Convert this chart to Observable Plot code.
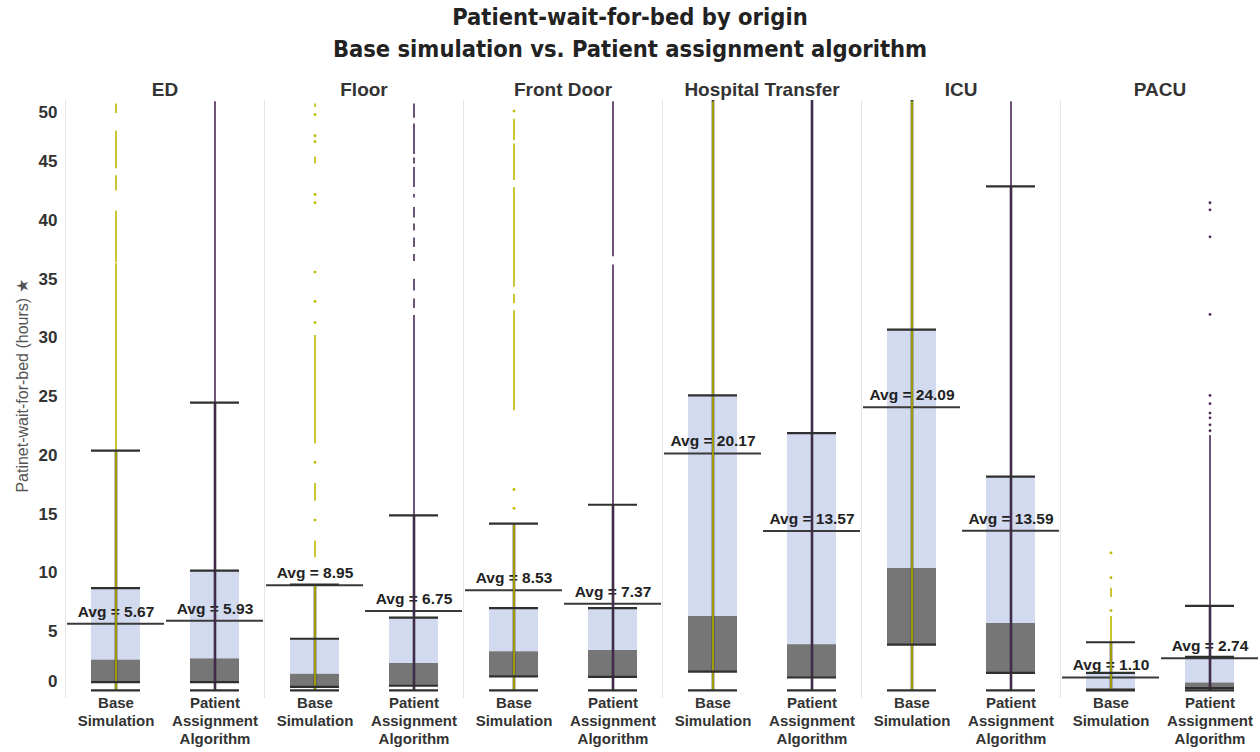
<!DOCTYPE html>
<html>
<head>
<meta charset="utf-8">
<script src="https://cdn.jsdelivr.net/npm/d3@7"></script>
<script src="https://cdn.jsdelivr.net/npm/@observablehq/plot@0.6"></script>
<style>
  body { margin: 0; background: #fff; }
  #title {
    height: 68px; box-sizing: border-box; padding-top: 1px;
    text-align: center; color: #222;
    font-family: "DejaVu Sans", sans-serif; font-stretch: condensed;
    font-weight: bold; font-size: 23.5px; line-height: 32px;
  }
</style>
</head>
<body>
<div id="title">
  <div>Patient-wait-for-bed by origin</div>
  <div>Base simulation vs. Patient assignment algorithm</div>
</div>
<div id="chart"></div>
<script>
// Origins (facets) and the two scenarios compared in each
const origins = ["ED", "Floor", "Front Door", "Hospital Transfer", "ICU", "PACU"];
const scenarios = ["Base Simulation", "Patient Assignment Algorithm"];
const scenarioLabels = ["Base\nSimulation", "Patient\nAssignment\nAlgorithm"];
const stripColors = ["#bdb800", "#4a2a55"];

// Box-plot statistics in hours, origin by origin: [base, algorithm]
const whiskerLow  = [0, 0,    0, 0,    0, 0,    0, 0,     0, 0,     0, 0];
const q1          = [0.7, 0.7, 0.3, 0.4, 1.2, 1.15, 1.6, 1.1, 3.9, 1.5, 0.05, 0.2];
const median      = [2.6, 2.7, 1.4, 2.3, 3.3, 3.4, 6.3, 3.9, 10.4, 5.7, 0.15, 0.65];
const q3          = [8.7, 10.2, 4.4, 6.2, 7.0, 7.0, 25.1, 21.9, 30.7, 18.2, 1.5, 2.85];
const whiskerHigh = [20.4, 24.5, 9.0, 14.9, 14.2, 15.8, 51, 51, 51, 42.9, 4.1, 7.2];
const avgWait     = [5.67, 5.93, 8.95, 6.75, 8.53, 7.37, 20.17, 13.57, 24.09, 13.59, 1.10, 2.74];

// Runs of individual waits drawn as a strip: [origin, scenario index, from, to]
const stripRuns = [
  ["ED", 0, 0, 36.3], ["ED", 0, 36.4, 40.8], ["ED", 0, 42.5, 43.8], ["ED", 0, 44.4, 47.6], ["ED", 0, 49.1, 49.9],
  ["ED", 1, 0, 50.1],
  ["Floor", 0, 0, 9.0], ["Floor", 0, 11.3, 12.7], ["Floor", 0, 16.1, 17.6], ["Floor", 0, 21.0, 30.2],
  ["Floor", 0, 44.8, 45.4], ["Floor", 0, 49.6, 49.9],
  ["Floor", 1, 0, 31.9], ["Floor", 1, 32.5, 33.3], ["Floor", 1, 34.0, 35.0], ["Floor", 1, 36.5, 37.1],
  ["Floor", 1, 37.7, 38.5], ["Floor", 1, 39.1, 39.7], ["Floor", 1, 40.2, 41.1], ["Floor", 1, 41.9, 42.2],
  ["Floor", 1, 42.8, 44.5], ["Floor", 1, 44.8, 45.3], ["Floor", 1, 45.6, 48.2], ["Floor", 1, 48.7, 49.9],
  ["Front Door", 0, 0, 14.2], ["Front Door", 0, 23.8, 32.3], ["Front Door", 0, 32.9, 33.7],
  ["Front Door", 0, 34.3, 42.8], ["Front Door", 0, 43.4, 46.5], ["Front Door", 0, 46.8, 48.6],
  ["Front Door", 1, 0, 36.2], ["Front Door", 1, 36.9, 50.1],
  ["Hospital Transfer", 0, 0, 50.1], ["Hospital Transfer", 1, 0, 50.1],
  ["ICU", 0, 0, 50.1], ["ICU", 1, 0, 50.1],
  ["PACU", 0, 0, 6.3], ["PACU", 0, 7.9, 8.7],
  ["PACU", 1, 0, 21.7]
];

// Sparse outlying waits: [origin, scenario index, hours]
const outlierPoints = [
  ["Floor", 0, 14.5], ["Floor", 0, 19.4], ["Floor", 0, 31.3], ["Floor", 0, 33.1], ["Floor", 0, 35.6],
  ["Floor", 0, 41.5], ["Floor", 0, 42.2], ["Floor", 0, 46.7], ["Floor", 0, 47.2], ["Floor", 0, 49.0],
  ["Front Door", 0, 15.5], ["Front Door", 0, 17.1], ["Front Door", 0, 49.3],
  ["PACU", 0, 6.8], ["PACU", 0, 9.6], ["PACU", 0, 11.7],
  ["PACU", 1, 22.1], ["PACU", 1, 22.6], ["PACU", 1, 23.2], ["PACU", 1, 23.6], ["PACU", 1, 24.4],
  ["PACU", 1, 25.1], ["PACU", 1, 32.0], ["PACU", 1, 38.6], ["PACU", 1, 40.9], ["PACU", 1, 41.5]
];

const yTicksInner = [5, 10, 15, 20, 25, 30, 35, 40, 45];
const yTickBottom = [0];
const yTickTop = [50];
const yTitle = "Patinet-wait-for-bed (hours) \u2605";

const columns = origins.flatMap((origin, i) => scenarios.map((scenario, j) => {
  const k = i * 2 + j;
  return {origin, scenario, low: whiskerLow[k], q1: q1[k], median: median[k], q3: q3[k],
          high: whiskerHigh[k], avg: avgWait[k]};
}));
const capRows = columns.flatMap(d => [d.low, d.q1, d.q3, d.high].map(y => ({...d, y})));
const runs = stripRuns.map(([origin, s, y1, y2]) => ({origin, scenario: scenarios[s], color: stripColors[s], y1, y2}));
const points = outlierPoints.map(([origin, s, y]) => ({origin, scenario: scenarios[s], color: stripColors[s], y}));

const pos = {fx: "origin", x: "scenario"};
const dark = "#2f2f2f";
const yAxisStyle = {tickSize: 0, tickPadding: 8, fontSize: 17, fontWeight: "bold", label: null};

const chart = Plot.plot({
  width: 1260, height: 684,
  marginLeft: 63, marginRight: 0, marginTop: 32, marginBottom: 55,
  fx: {domain: origins, padding: 0, label: null},
  x: {domain: scenarios, padding: 0, label: null},
  y: {domain: [-0.6, 50.2], label: null},
  color: {type: "identity"},
  style: {fontFamily: "'Liberation Sans', Arial, sans-serif", color: "#333", background: "#fff"},
  marks: [
    Plot.frame({anchor: "left", stroke: "#e2e6ec"}),
    Plot.barY(columns, {...pos, y1: "q1", y2: "median", fill: "#767676", insetLeft: 25, insetRight: 25}),
    Plot.barY(columns, {...pos, y1: "median", y2: "q3", fill: "#d2daf0", insetLeft: 25, insetRight: 25}),
    Plot.text(columns, {...pos, y: "avg", text: d => `Avg = ${d.avg.toFixed(2)}`, dy: -12,
      fontSize: 15.5, fontWeight: "bold", fill: "#222"}),
    Plot.tickY(columns, {...pos, y: "avg", stroke: "#3a3a3a", strokeWidth: 2, insetLeft: 1, insetRight: 1}),
    Plot.ruleX(columns, {...pos, y1: "low", y2: "high", stroke: dark, strokeWidth: 2.6, clip: true}),
    Plot.ruleX(runs, {...pos, y1: "y1", y2: "y2", stroke: "color", strokeWidth: 1.6, clip: true}),
    Plot.dot(points, {...pos, y: "y", r: 1.4, fill: "color", stroke: null}),
    Plot.tickY(capRows, {...pos, y: "y", stroke: dark, strokeWidth: 2.2, insetLeft: 25, insetRight: 25, clip: true}),
    Plot.axisY({...yAxisStyle, ticks: yTicksInner}),
    Plot.axisY({...yAxisStyle, ticks: yTickBottom, dy: -9}),
    Plot.axisY({...yAxisStyle, ticks: yTickTop, dy: 10}),
    Plot.axisX({tickSize: 0, tickPadding: -3, fontSize: 15, fontWeight: "bold", lineHeight: 1.23,
      tickFormat: s => scenarioLabels[scenarios.indexOf(s)], label: null}),
    Plot.axisFx({anchor: "top", tickSize: 0, tickPadding: 5, fontSize: 19, fontWeight: "bold", label: null}),
    Plot.text([yTitle], {fx: () => origins[0], frameAnchor: "left", rotate: -90, textAnchor: "middle",
      dx: -43, dy: -13, fontSize: 16, fill: "#555"})
  ]
});
document.getElementById("chart").append(chart);
</script>
</body>
</html>
